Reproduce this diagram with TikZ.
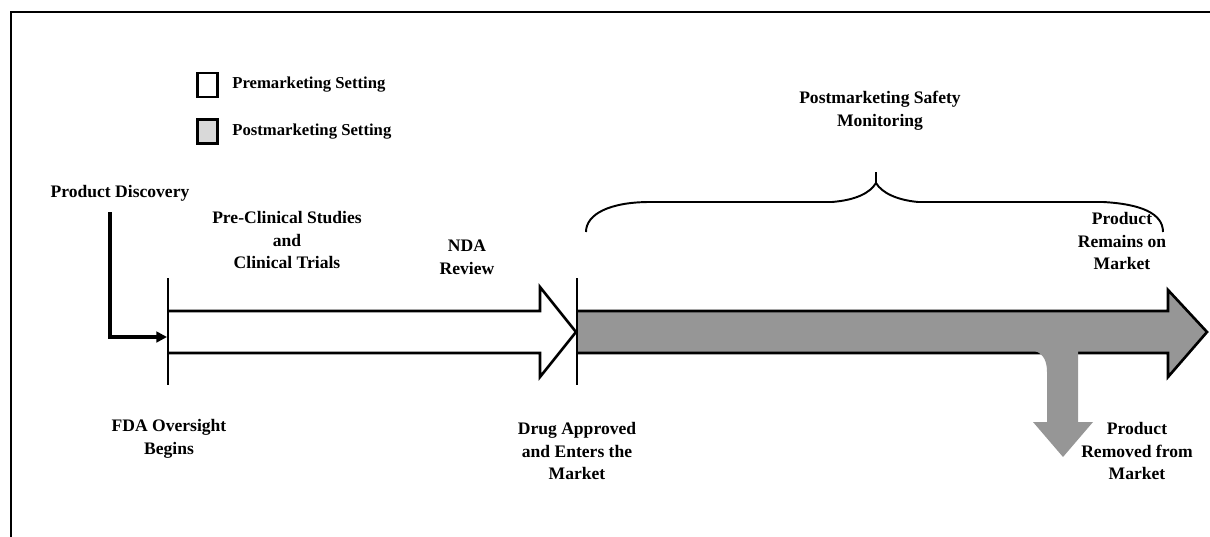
\documentclass[tikz,border=0pt]{standalone}
\usepackage{fontspec}
\setmainfont{Liberation Serif}
\usetikzlibrary{arrows.meta}
\definecolor{arrowgray}{HTML}{969696}
\definecolor{legendgray}{HTML}{D9D9D9}
\tikzset{
  lbl/.style={font=\bfseries\fontsize{10}{13}\selectfont, align=center, inner sep=0pt},
  legtext/.style={font=\bfseries\fontsize{9.5}{12}\selectfont, anchor=west, inner sep=0pt},
  legbox/.style={draw=black, line width=1.4pt, minimum width=0.4cm, minimum height=0.48cm, inner sep=0pt},
  bigarrow/.style={draw=black, line width=1.5pt, line join=miter},
  tick/.style={line width=1.5pt},
  brace/.style={line width=1.1pt},
  frame/.style={line width=1.2pt}
}
\begin{document}
\begin{tikzpicture}[x=0.02cm,y=-0.02cm]
\useasboundingbox (0,0) rectangle (1210,537);
% frame
\draw[frame] (1210,12) -- (11,12) -- (11,537);
% legend
\node[legbox, fill=white] (lb1) at (207.5,85) {};
\node[legbox, fill=legendgray] (lb2) at (207.5,131.5) {};
\node[legtext] (lt1) at (232,85) {Premarketing Setting};
\node[legtext] (lt2) at (232,132) {Postmarketing Setting};
% white arrow
\draw[bigarrow, fill=white] (168,311) -- (540,311) -- (540,287) -- (576,332) -- (540,377) -- (540,353) -- (168,353);
% gray arrow
\draw[bigarrow, fill=arrowgray] (577,311) -- (1168,311) -- (1168,290) -- (1207,332) -- (1168,377) -- (1168,353) -- (577,353);
% down arrow
\fill[arrowgray] (1035,351) .. controls (1044,354) and (1047,362) .. (1047,372) -- (1047,422) -- (1033,422) -- (1063,457) -- (1093,422) -- (1078,422) -- (1078,351) -- cycle;
% ticks
\coordinate (t1top) at (168,278);
\coordinate (t1bot) at (168,385);
\coordinate (t2top) at (577,278);
\coordinate (t2bot) at (577,385);
\draw[tick] (t1top) -- (t1bot);
\draw[tick] (t2top) -- (t2bot);
% labels
\node[lbl] (pd) at (120,193) {Product Discovery};
\node[lbl] (pc) at (287,240) {Pre-Clinical Studies\\and\\Clinical Trials};
\node[lbl] (nda) at (467,257) {NDA\\Review};
\node[lbl] (psm) at (880,111) {Postmarketing Safety\\Monitoring};
\node[lbl] (prm) at (1122,241) {Product\\Remains on\\Market};
\node[lbl] (fda) at (169,439) {FDA Oversight\\Begins};
\node[lbl] (dae) at (577,451) {Drug Approved\\and Enters the\\Market};
\node[lbl] (prem) at (1137,451) {Product\\Removed from\\Market};
% discovery connector
\coordinate (pdstart) at (110,212);
\coordinate (pdend) at (167,337);
\draw[line width=2pt, -{Triangle[length=6pt,width=6pt]}] (pdstart) |- (pdend);
% brace
\draw[brace] (586,232) .. controls (586,214) and (610,202) .. (650,202) -- (832,202)
  .. controls (856,200) and (870,193) .. (876,183) -- (876,172);
\draw[brace] (876,183) .. controls (882,193) and (897,200) .. (918,202) -- (1103,202)
  .. controls (1140,204) and (1163,213) .. (1163,232);
\end{tikzpicture}
\end{document}
